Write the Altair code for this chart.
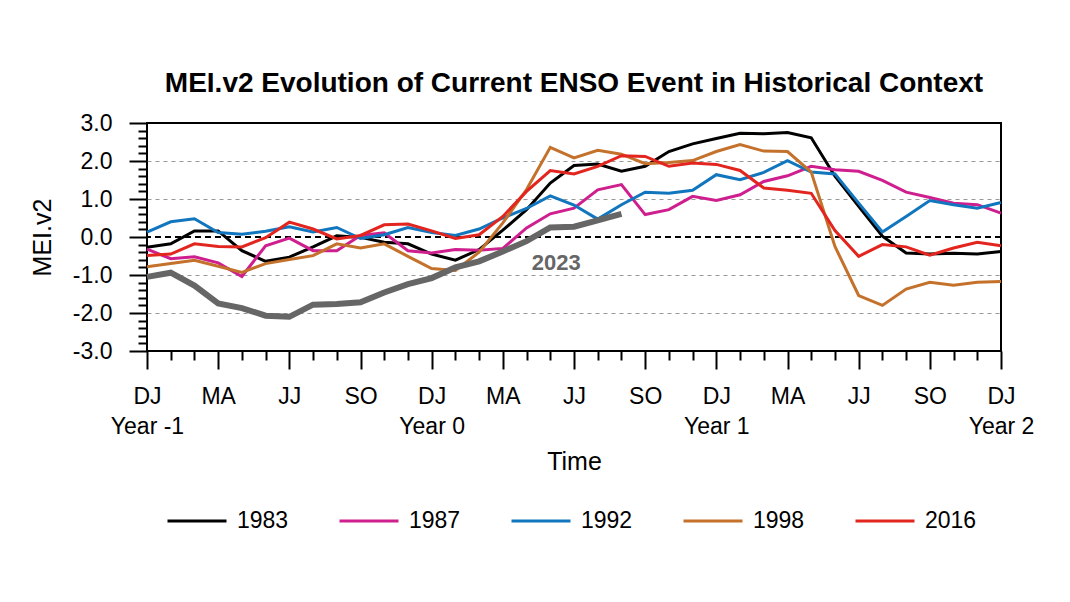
import altair as alt
import pandas as pd

FONT = "Liberation Sans, Arial, Helvetica, sans-serif"

# month index 0..36 (DJ Year -1 ... DJ Year 2)
month_labels = ["DJ", "MA", "JJ", "SO", "DJ", "MA", "JJ", "SO", "DJ", "MA", "JJ", "SO", "DJ"]
year_labels = ["Year -1", "Year 0", "Year 1", "Year 2"]

series_names = ["1983", "1987", "1992", "1998", "2016"]
series_colors = ["#000000", "#cf1f8f", "#1276be", "#c4712b", "#e2261f"]

v1983 = [-0.27, -0.18, 0.16, 0.16, -0.36, -0.64, -0.53, -0.26, 0.03, -0.01,
         -0.14, -0.18, -0.45, -0.61, -0.33, 0.18, 0.72, 1.42, 1.88, 1.92,
         1.73, 1.86, 2.25, 2.45, 2.59, 2.73, 2.72, 2.75, 2.61, 1.60,
         0.81, 0.02, -0.42, -0.45, -0.43, -0.45, -0.38]
v1987 = [-0.32, -0.57, -0.52, -0.68, -1.04, -0.23, -0.03, -0.36, -0.36, 0.04,
         0.11, -0.36, -0.42, -0.33, -0.35, -0.30, 0.24, 0.61, 0.76, 1.24,
         1.38, 0.59, 0.72, 1.07, 0.96, 1.11, 1.46, 1.61, 1.86, 1.77,
         1.73, 1.49, 1.18, 1.04, 0.89, 0.85, 0.63]
v1992 = [0.13, 0.40, 0.48, 0.12, 0.07, 0.15, 0.27, 0.13, 0.25, -0.04,
         0.06, 0.25, 0.12, 0.04, 0.21, 0.50, 0.75, 1.08, 0.84, 0.47,
         0.85, 1.18, 1.15, 1.23, 1.64, 1.51, 1.70, 2.01, 1.71, 1.66,
         0.89, 0.13, 0.54, 0.96, 0.85, 0.76, 0.91]
v1998 = [-0.78, -0.70, -0.61, -0.77, -0.93, -0.70, -0.59, -0.49, -0.18, -0.29,
         -0.18, -0.51, -0.83, -0.88, -0.40, 0.37, 1.25, 2.36, 2.08, 2.28,
         2.18, 1.93, 1.96, 2.01, 2.25, 2.43, 2.26, 2.25, 1.71, -0.25,
         -1.54, -1.80, -1.37, -1.19, -1.27, -1.19, -1.17]
v2016 = [-0.49, -0.45, -0.18, -0.25, -0.26, -0.02, 0.39, 0.21, -0.05, 0.04,
         0.32, 0.34, 0.16, -0.04, 0.06, 0.54, 1.20, 1.75, 1.66, 1.86,
         2.14, 2.12, 1.86, 1.95, 1.91, 1.75, 1.29, 1.23, 1.15, 0.17,
         -0.51, -0.20, -0.26, -0.48, -0.29, -0.14, -0.23]
current_name = "2023"
v2023 = [-1.05, -0.94, -1.28, -1.75, -1.87, -2.07, -2.10, -1.78, -1.76, -1.72,
         -1.46, -1.24, -1.08, -0.80, -0.64, -0.38, -0.11, 0.25, 0.27, 0.44,
         0.61]

rows = []
for name, vals in zip(series_names, [v1983, v1987, v1992, v1998, v2016]):
    for i, v in enumerate(vals):
        rows.append({"t": i, "v": v, "s": name})
df = pd.DataFrame(rows)
df23 = pd.DataFrame({"t": list(range(len(v2023))), "v": v2023})
zero_df = pd.DataFrame({"v": [0.0]})
lab_df = pd.DataFrame({"label": [current_name]})

x_values = list(range(37))
y_values = [round(-3 + 0.2 * k, 1) for k in range(31)]

mon_js = "[" + ",".join("'%s'" % m for m in month_labels) + "]"
yr_js = "[" + ",".join("'%s'" % y for y in year_labels) + "]"
x_label_expr = (
    "datum.value % 3 != 0 ? '' : (datum.value % 12 == 0 ? "
    "[" + mon_js + "[datum.value/3], " + yr_js + "[datum.value/12]] : "
    + mon_js + "[datum.value/3])"
)
y_label_expr = (
    "abs(datum.value - round(datum.value)) < 0.01 ? "
    "((datum.value < -0.01 ? '-' : '') + format(abs(datum.value), '.1f')) : ''"
)

x_enc = alt.X(
    "t:Q",
    scale=alt.Scale(domain=[0, 36], nice=False, zero=False),
    axis=alt.Axis(
        values=x_values,
        tickCount=200,
        labelExpr=x_label_expr,
        tickSize={"condition": {"test": "datum.value % 3 == 0", "value": 18}, "value": 9},
        tickWidth=2,
        tickColor="black",
        labelPadding=16,
        labelLineHeight=30,
        labelFontSize=23,
        labelOverlap=False,
        labelFlush=False,
        grid=False,
        domain=False,
        title="Time",
        titleFontSize=25,
        titleFontWeight="normal",
        titleY=98,
        titleBaseline="top",
    ),
)
y_enc = alt.Y(
    "v:Q",
    scale=alt.Scale(domain=[-3, 3], nice=False, zero=False),
    axis=alt.Axis(
        values=y_values,
        tickCount=200,
        labelExpr=y_label_expr,
        tickSize={"condition": {"test": "abs(datum.value - round(datum.value)) < 0.01", "value": 18}, "value": 9},
        tickWidth=2,
        tickColor="black",
        labelPadding=17,
        labelFontSize=23,
        labelOverlap=False,
        labelFlush=False,
        grid=True,
        gridColor="#999999",
        gridDash=[4, 4],
        gridWidth=1,
        gridOpacity={"condition": {"test": "abs(datum.value) > 0.5 && abs(datum.value) < 2.5 && abs(datum.value - round(datum.value)) < 0.01", "value": 1}, "value": 0},
        domain=False,
        title="MEI.v2",
        titleFontSize=25,
        titleFontWeight="normal",
        titleX=-92,
    ),
)

zero_line = alt.Chart(zero_df).mark_rule(
    color="black", strokeWidth=2, strokeDash=[6, 4]
).encode(y=alt.Y("v:Q"))

lines = alt.Chart(df).mark_line(strokeWidth=3, strokeJoin="miter").encode(
    x=x_enc,
    y=y_enc,
    color=alt.Color(
        "s:N",
        scale=alt.Scale(domain=series_names, range=series_colors),
        legend=alt.Legend(
            orient="none",
            legendX=19,
            legendY=367,
            direction="horizontal",
            columns=5,
            title=None,
            symbolType="stroke",
            symbolSize=3481,
            symbolStrokeWidth=3,
            labelFontSize=23,
            labelFont=FONT,
            labelColor="black",
            labelOffset=9,
            columnPadding=44,
            padding=0,
        ),
    ),
    detail="s:N",
)

line23 = alt.Chart(df23).mark_line(strokeWidth=6, color="#666666").encode(
    x=alt.X("t:Q"), y=alt.Y("v:Q")
)

label23 = alt.Chart(lab_df).mark_text(
    font=FONT, fontSize=22, fontWeight="bold", color="#666666",
    align="center", baseline="middle"
).encode(x=alt.datum(17.25), y=alt.datum(-0.68), text="label:N")

chart = alt.layer(zero_line, lines, line23, label23).properties(
    width=854,
    height=228,
    background="white",
    autosize=alt.AutoSizeParams(type="none"),
    padding={"left": 139, "top": 115, "right": 61, "bottom": 243},
    title=alt.TitleParams(
        "MEI.v2 Evolution of Current ENSO Event in Historical Context",
        fontSize=28, font=FONT, fontWeight="bold", anchor="middle",
        frame="group", offset=14, color="black",
    ),
).configure_view(stroke="black", strokeWidth=2).configure_axis(
    labelFont=FONT, titleFont=FONT, labelColor="black", titleColor="black"
)

chart.save("out.html", embed_options={"renderer": "svg", "actions": False})
